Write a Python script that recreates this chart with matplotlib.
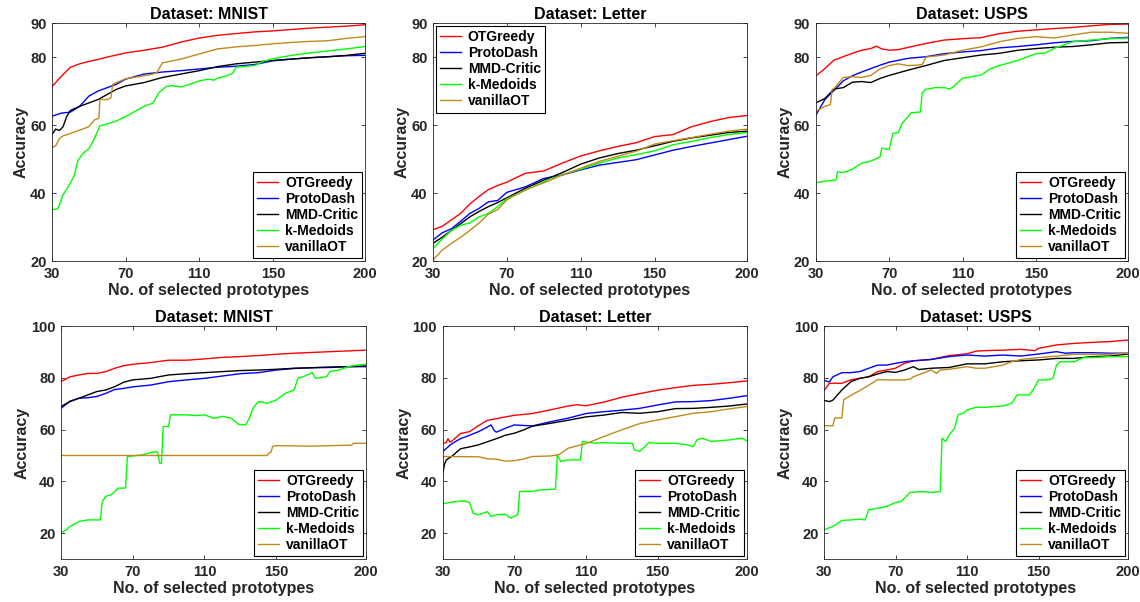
import matplotlib
matplotlib.use('Agg')
import matplotlib.pyplot as plt

plt.rcParams['font.family'] = ['Liberation Sans', 'DejaVu Sans']
plt.rcParams['font.weight'] = 'bold'

# method names and colours
methods = ['OTGreedy', 'ProtoDash', 'MMD-Critic', 'k-Medoids', 'vanillaOT']
colors = ['#ff0000', '#0000ff', '#000000', '#00ff00', '#bf8a1c']

x_common = [30, 35, 40, 45, 50, 55, 60, 65, 70, 80, 90, 100, 110, 120, 130, 140, 150, 160, 170, 180, 190, 200]

x_ticks = [30, 70, 110, 150, 200]
top_yticks = [20, 40, 60, 80, 90]
bottom_yticks = [20, 40, 60, 80, 100]

# ---- top row, MNIST ----
t_mnist_red = [71.3, 74.3, 77.0, 78.0, 78.7, 79.3, 80.0, 80.6, 81.2, 82.0, 82.9, 84.4, 85.6, 86.4, 86.9, 87.4, 87.7, 88.1, 88.5, 88.8, 89.1, 89.5]
t_mnist_blue = [62.6, 63.5, 63.8, 65.5, 68.5, 70.0, 71.0, 72.0, 73.5, 75.0, 75.6, 76.0, 76.5, 77.0, 77.3, 77.8, 78.9, 79.4, 79.8, 80.1, 80.4, 80.5]
t_mnist_black_x = [30, 32, 34, 36, 38, 40, 45, 50, 55, 60, 65, 70, 80, 90, 100, 110, 120, 130, 140, 150, 160, 170, 180, 190, 200]
t_mnist_black = [57.2, 58.8, 58.4, 59.5, 62.5, 64.3, 65.5, 66.5, 67.5, 69.0, 70.5, 71.5, 72.5, 74.0, 75.0, 76.0, 77.2, 78.0, 78.5, 79.0, 79.4, 79.8, 80.1, 80.5, 81.1]
t_mnist_green_x = [30, 33, 34, 36, 39, 42, 44, 47, 50, 53, 56, 60, 65, 70, 75, 80, 85, 88, 92, 95, 100, 105, 110, 115, 118, 120, 125, 128, 130, 140, 145, 150, 160, 170, 180, 190, 200]
t_mnist_green = [35.1, 35.3, 36.5, 39.5, 42.0, 45.0, 49.5, 51.8, 53.0, 56.0, 59.8, 60.3, 61.2, 62.5, 64.0, 65.5, 66.5, 69.5, 71.3, 71.6, 71.2, 72.0, 73.0, 73.5, 73.2, 73.8, 74.5, 75.2, 77.0, 77.5, 78.8, 79.5, 80.5, 81.2, 81.8, 82.4, 83.1]
t_mnist_brown_x = [30, 32, 34, 36, 40, 45, 50, 53, 55.5, 56, 60, 62, 63, 65, 70, 80, 85, 87, 90, 100, 110, 120, 130, 140, 150, 160, 170, 180, 190, 200]
t_mnist_brown = [53.3, 53.9, 56.0, 56.8, 57.5, 58.5, 59.5, 61.5, 62.0, 67.5, 67.5, 68.0, 72.0, 72.5, 73.6, 74.5, 75.0, 75.5, 78.3, 79.4, 80.9, 82.4, 83.0, 83.4, 83.9, 84.3, 84.6, 84.8, 85.5, 86.0]

# ---- top row, Letter ----
t_letter_red = [29.2, 30.2, 32.1, 34.0, 36.8, 39.0, 41.0, 42.2, 43.2, 45.8, 46.5, 48.8, 50.9, 52.4, 53.7, 54.8, 56.6, 57.2, 59.5, 61.0, 62.2, 62.8]
t_letter_blue = [26.2, 28.3, 29.5, 31.7, 34.0, 35.5, 37.4, 37.8, 40.2, 41.8, 44.3, 45.3, 46.8, 48.2, 49.0, 49.8, 51.2, 52.6, 53.7, 54.7, 55.7, 56.7]
t_letter_black = [25.2, 27.0, 29.0, 31.0, 33.0, 34.6, 36.0, 37.2, 38.6, 41.4, 43.8, 46.0, 48.5, 50.3, 51.6, 52.6, 53.9, 55.2, 56.2, 57.0, 57.8, 58.2]
t_letter_green = [23.7, 26.5, 29.0, 30.5, 31.2, 33.0, 34.0, 36.0, 38.3, 40.8, 43.3, 45.4, 47.0, 48.8, 50.3, 51.3, 52.4, 54.2, 55.2, 56.3, 57.2, 57.8]
t_letter_brown = [20.3, 23.2, 25.2, 27.0, 29.0, 31.2, 33.8, 35.1, 38.0, 41.0, 43.0, 45.3, 47.3, 49.3, 50.8, 52.3, 54.4, 55.4, 56.3, 57.3, 58.2, 58.8]

# ---- top row, USPS ----
t_usps_red_x = [30, 35, 40, 45, 50, 55, 60, 63, 66, 70, 75, 80, 90, 100, 110, 120, 130, 140, 150, 160, 170, 180, 190, 200]
t_usps_red = [74.4, 76.6, 79.1, 80.1, 81.1, 82.0, 82.5, 83.2, 82.4, 82.0, 82.2, 82.8, 84.0, 85.0, 85.4, 85.7, 86.9, 87.6, 88.0, 88.4, 88.7, 89.2, 89.6, 89.7]
t_usps_blue = [62.8, 67.5, 70.2, 73.0, 74.5, 75.6, 76.6, 77.6, 78.5, 79.6, 80.1, 81.0, 81.5, 81.9, 82.7, 83.1, 83.6, 84.2, 84.6, 84.8, 85.5, 85.8]
t_usps_black = [66.5, 67.8, 70.6, 71.0, 72.6, 72.8, 72.5, 73.7, 74.6, 76.1, 77.5, 79.0, 79.8, 80.6, 81.1, 82.0, 82.5, 82.9, 83.1, 83.6, 84.2, 84.3]
t_usps_green_x = [30, 35, 41, 42, 45, 50, 55, 60, 65, 66, 70, 72, 75, 77, 80, 82, 86, 87, 88, 90, 95, 100, 103, 105, 110, 115, 120, 125, 130, 140, 150, 155, 160, 170, 180, 190, 200]
t_usps_green = [43.0, 43.5, 43.8, 46.3, 46.0, 47.0, 48.8, 49.4, 50.6, 53.2, 52.8, 57.5, 57.8, 60.5, 62.3, 63.6, 63.8, 63.8, 69.5, 70.5, 71.0, 71.0, 70.6, 71.3, 73.8, 74.2, 74.7, 76.5, 77.5, 79.0, 81.0, 81.2, 82.6, 84.5, 85.0, 85.4, 85.6]
t_usps_brown_x = [30, 35, 38, 39, 40, 45, 50, 55, 60, 65, 70, 75, 80, 85, 88, 90, 100, 110, 120, 130, 140, 150, 160, 170, 180, 190, 200]
t_usps_brown = [64.0, 65.5, 66.0, 70.5, 70.7, 74.0, 74.2, 74.0, 74.6, 76.5, 77.5, 78.0, 77.5, 77.6, 77.8, 80.0, 80.6, 82.0, 83.0, 84.5, 85.5, 86.0, 85.6, 86.5, 87.3, 87.3, 87.0]

# ---- bottom row, MNIST ----
b_mnist_red = [78.5, 80.4, 81.1, 81.7, 81.7, 82.4, 83.7, 84.7, 85.2, 85.9, 86.8, 86.8, 87.3, 87.9, 88.2, 88.6, 89.1, 89.5, 89.8, 90.1, 90.4, 90.7]
b_mnist_blue = [68.2, 71.0, 72.1, 72.3, 72.8, 74.0, 75.5, 75.9, 76.5, 77.2, 78.5, 79.2, 79.8, 80.7, 81.6, 82.0, 83.0, 83.6, 83.9, 84.2, 84.3, 84.3]
b_mnist_black = [68.9, 70.8, 72.1, 73.4, 74.7, 75.3, 76.6, 78.3, 79.2, 79.8, 81.1, 81.6, 82.0, 82.4, 82.8, 83.0, 83.3, 83.7, 83.9, 84.0, 84.3, 84.6]
b_mnist_green_x = [30, 33, 35, 40, 45, 52, 53, 55, 58, 60, 62, 66, 67, 70, 75, 80, 83, 84, 85, 86, 87, 90, 91, 95, 100, 105, 110, 115, 120, 125, 129, 133, 135, 137, 140, 145, 150, 155, 160, 162, 165, 170, 172, 178, 180, 185, 190, 195, 200]
b_mnist_green = [20.0, 21.3, 22.6, 24.5, 25.1, 25.1, 32.2, 34.2, 34.8, 36.1, 37.4, 37.4, 49.6, 49.8, 50.2, 51.1, 51.5, 51.1, 47.0, 47.0, 61.2, 61.2, 65.7, 65.7, 65.7, 65.4, 65.7, 64.4, 65.1, 64.4, 62.0, 61.8, 64.4, 68.2, 70.8, 70.2, 71.4, 74.0, 75.3, 79.8, 80.4, 82.0, 79.8, 80.4, 82.4, 83.0, 84.3, 84.9, 85.2]
b_mnist_brown_x = [30, 145, 146, 147, 148, 150, 170, 192, 193, 200]
b_mnist_brown = [50.0, 50.0, 51.0, 51.2, 53.5, 53.8, 53.6, 54.0, 54.7, 54.7]

# ---- bottom row, Letter ----
b_letter_red_x = [30, 32, 33, 34, 35, 40, 45, 50, 55, 60, 65, 70, 80, 90, 100, 105, 110, 120, 130, 140, 150, 160, 170, 180, 190, 200]
b_letter_red = [54.6, 55.0, 56.5, 55.2, 55.5, 58.5, 59.2, 61.5, 63.6, 64.2, 64.9, 65.5, 66.2, 67.6, 69.1, 69.6, 69.2, 70.6, 72.5, 73.9, 75.2, 76.2, 77.1, 77.5, 78.1, 78.8]
b_letter_blue_x = [30, 35, 40, 45, 50, 55, 57, 59, 60, 65, 70, 80, 90, 100, 110, 120, 130, 140, 150, 160, 170, 180, 190, 200]
b_letter_blue = [51.5, 54.5, 56.5, 57.8, 59.2, 61.0, 61.8, 59.5, 59.0, 60.5, 61.8, 61.4, 63.0, 64.4, 66.2, 66.9, 67.5, 68.2, 69.5, 70.7, 70.8, 71.2, 72.1, 73.1]
b_letter_black_x = [30, 31, 32, 35, 40, 45, 50, 55, 60, 65, 70, 75, 80, 90, 100, 110, 120, 130, 140, 150, 160, 170, 180, 190, 200]
b_letter_black = [42.5, 46.5, 48.3, 49.6, 52.6, 53.3, 54.1, 55.3, 56.5, 57.8, 58.6, 59.8, 61.3, 62.4, 63.6, 64.9, 65.6, 66.6, 66.3, 66.9, 68.1, 68.2, 68.6, 69.1, 69.9]
b_letter_green_x = [30, 35, 42, 45, 47, 50, 55, 57, 60, 65, 68, 72, 73, 80, 85, 93, 94, 96, 100, 107, 108, 115, 120, 130, 136, 137, 140, 143, 145, 150, 160, 166, 170, 172, 175, 180, 190, 197, 200]
b_letter_green = [31.3, 32.0, 32.5, 31.8, 27.7, 27.1, 28.3, 26.4, 27.1, 27.3, 25.8, 27.1, 36.1, 36.1, 36.7, 37.0, 50.2, 47.7, 48.3, 48.3, 55.4, 54.7, 55.0, 54.7, 54.7, 52.2, 51.6, 53.4, 55.0, 54.7, 54.7, 54.2, 53.4, 56.0, 56.7, 55.4, 56.0, 56.7, 55.6]
b_letter_brown_x = [30, 50, 55, 60, 65, 70, 75, 80, 90, 95, 100, 110, 120, 130, 140, 150, 160, 170, 180, 190, 200]
b_letter_brown = [49.6, 49.5, 48.7, 48.6, 47.8, 48.0, 48.6, 49.6, 49.8, 50.3, 52.8, 54.6, 57.3, 59.9, 62.3, 63.7, 65.0, 66.3, 66.9, 68.0, 68.9]

# ---- bottom row, USPS ----
b_usps_red_x = [30, 33, 40, 45, 50, 55, 60, 65, 70, 75, 80, 90, 100, 110, 115, 120, 130, 140, 145, 148, 150, 160, 170, 180, 190, 200]
b_usps_red = [75.0, 77.9, 77.9, 79.2, 79.8, 80.4, 82.4, 83.0, 83.7, 85.6, 86.5, 87.1, 88.6, 89.3, 90.3, 90.5, 90.7, 91.0, 90.7, 90.5, 91.4, 92.7, 93.3, 93.7, 94.0, 94.6]
b_usps_blue_x = [30, 33, 35, 40, 45, 50, 55, 60, 65, 70, 75, 80, 90, 100, 110, 120, 130, 140, 150, 160, 165, 170, 180, 190, 200]
b_usps_blue = [79.0, 78.4, 80.4, 82.0, 82.0, 82.4, 83.7, 84.9, 84.9, 85.6, 86.2, 86.6, 87.1, 88.2, 88.8, 88.4, 88.8, 88.4, 89.2, 90.1, 89.5, 89.7, 89.7, 89.5, 89.5]
b_usps_black_x = [30, 33, 35, 40, 45, 50, 55, 60, 65, 70, 75, 80, 83, 90, 100, 110, 120, 130, 140, 150, 160, 170, 180, 190, 200]
b_usps_black = [71.3, 70.8, 71.4, 75.3, 78.5, 79.8, 80.4, 81.5, 82.4, 82.1, 83.0, 84.3, 83.2, 83.7, 84.0, 85.4, 85.4, 86.2, 86.6, 86.9, 87.5, 87.5, 88.2, 88.4, 89.2]
b_usps_green_x = [30, 35, 40, 45, 50, 53, 55, 60, 65, 70, 73, 75, 78, 85, 90, 95, 96, 98, 100, 103, 105, 108, 110, 115, 120, 125, 130, 135, 138, 145, 148, 150, 155, 158, 160, 162, 170, 175, 180, 190, 200]
b_usps_green = [21.3, 22.6, 24.9, 25.1, 25.4, 25.1, 29.0, 29.6, 30.3, 31.8, 32.2, 33.5, 35.7, 36.1, 35.7, 36.1, 56.7, 55.4, 57.9, 60.5, 65.7, 66.3, 67.6, 68.6, 68.6, 68.9, 69.1, 70.2, 73.4, 73.4, 76.6, 79.2, 79.2, 79.8, 84.9, 86.2, 86.2, 87.8, 87.8, 88.2, 88.2]
b_usps_brown_x = [30, 35, 36, 40, 41, 45, 50, 55, 60, 65, 70, 75, 78, 80, 85, 90, 93, 95, 100, 110, 115, 120, 130, 135, 140, 150, 160, 170, 180, 190, 200]
b_usps_brown = [61.5, 61.5, 64.5, 64.5, 71.5, 73.2, 75.1, 77.1, 79.3, 79.2, 79.2, 79.2, 79.5, 80.4, 81.7, 83.0, 81.7, 83.0, 83.3, 84.3, 83.7, 83.7, 84.9, 86.2, 87.1, 87.8, 88.4, 89.1, 89.1, 89.1, 89.5]


def draw_panel(ax, title, curves, ylim, yticks, loc):
    for (xs, ys), name, c in zip(curves, methods, colors):
        ax.plot(xs, ys, color=c, lw=1.0, label=name)
    ax.set_xlim(30, 200)
    ax.set_ylim(*ylim)
    ax.set_xticks(x_ticks)
    ax.set_yticks(yticks)
    ax.tick_params(direction='in', length=3, width=0.6, top=True, right=True,
                   labelsize=10.5, colors='#262626', pad=4)
    for lab in ax.get_xticklabels() + ax.get_yticklabels():
        lab.set_fontweight('bold')
    for s in ax.spines.values():
        s.set_color('#262626')
        s.set_linewidth(0.6)
    ax.set_title(title, fontsize=11.5, fontweight='bold', pad=3)
    ax.set_xlabel('No. of selected prototypes', fontsize=11.5, fontweight='bold', labelpad=2, color='#262626')
    ax.set_ylabel('Accuracy', fontsize=11.5, fontweight='bold', labelpad=1, color='#262626')
    leg = ax.legend(loc=loc, fontsize=10, frameon=True, fancybox=False, framealpha=1,
                    edgecolor='black', handlelength=1.5, handletextpad=0.5,
                    labelspacing=0.15, borderpad=0.3, borderaxespad=0.2)
    leg.get_frame().set_linewidth(0.8)
    for t in leg.get_texts():
        t.set_fontweight('bold')


fig = plt.figure(figsize=(11.4, 6.02), dpi=100)

top_pos = [[0.0456, 0.5664, 0.2746, 0.3953],
           [0.3798, 0.5664, 0.2754, 0.3953],
           [0.7155, 0.5664, 0.2740, 0.3953]]
bot_pos = [[0.0535, 0.0714, 0.2675, 0.3870],
           [0.3883, 0.0714, 0.2670, 0.3870],
           [0.7228, 0.0714, 0.2667, 0.3870]]

ax = fig.add_axes(top_pos[0])
draw_panel(ax, 'Dataset: MNIST',
           [(x_common, t_mnist_red), (x_common, t_mnist_blue), (t_mnist_black_x, t_mnist_black),
            (t_mnist_green_x, t_mnist_green), (t_mnist_brown_x, t_mnist_brown)],
           (20, 90), top_yticks, 'lower right')

ax = fig.add_axes(top_pos[1])
draw_panel(ax, 'Dataset: Letter',
           [(x_common, t_letter_red), (x_common, t_letter_blue), (x_common, t_letter_black),
            (x_common, t_letter_green), (x_common, t_letter_brown)],
           (20, 90), top_yticks, 'upper left')

ax = fig.add_axes(top_pos[2])
draw_panel(ax, 'Dataset: USPS',
           [(t_usps_red_x, t_usps_red), (x_common, t_usps_blue), (x_common, t_usps_black),
            (t_usps_green_x, t_usps_green), (t_usps_brown_x, t_usps_brown)],
           (20, 90), top_yticks, 'lower right')

ax = fig.add_axes(bot_pos[0])
draw_panel(ax, 'Dataset: MNIST',
           [(x_common, b_mnist_red), (x_common, b_mnist_blue), (x_common, b_mnist_black),
            (b_mnist_green_x, b_mnist_green), (b_mnist_brown_x, b_mnist_brown)],
           (10, 100), bottom_yticks, 'lower right')

ax = fig.add_axes(bot_pos[1])
draw_panel(ax, 'Dataset: Letter',
           [(b_letter_red_x, b_letter_red), (b_letter_blue_x, b_letter_blue), (b_letter_black_x, b_letter_black),
            (b_letter_green_x, b_letter_green), (b_letter_brown_x, b_letter_brown)],
           (10, 100), bottom_yticks, 'lower right')

ax = fig.add_axes(bot_pos[2])
draw_panel(ax, 'Dataset: USPS',
           [(b_usps_red_x, b_usps_red), (b_usps_blue_x, b_usps_blue), (b_usps_black_x, b_usps_black),
            (b_usps_green_x, b_usps_green), (b_usps_brown_x, b_usps_brown)],
           (10, 100), bottom_yticks, 'lower right')

fig.savefig('out.png', dpi=100)
